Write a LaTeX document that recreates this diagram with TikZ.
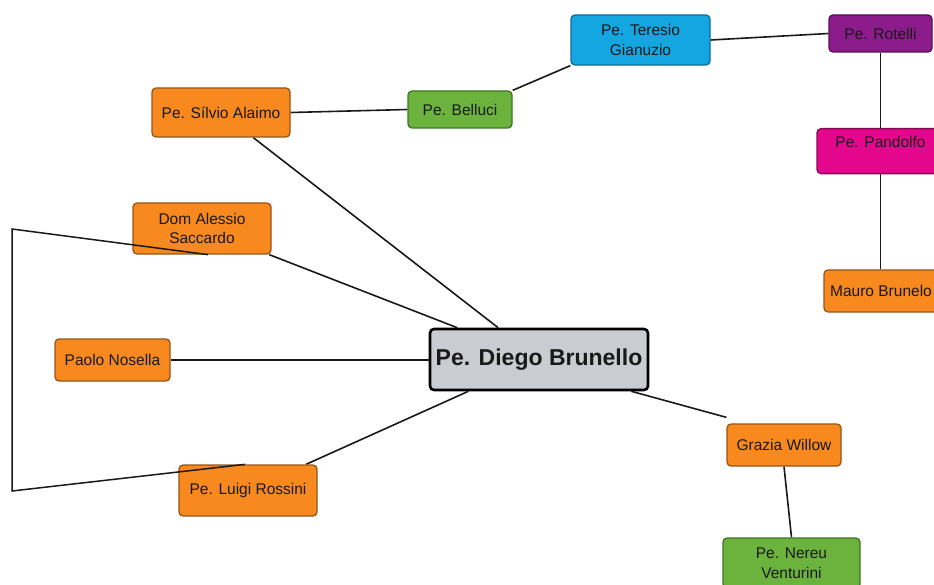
\documentclass[tikz,border=0pt]{standalone}
\usepackage{fontspec}
\setmainfont{Liberation Sans}
\usetikzlibrary{backgrounds}
\begin{document}
\begin{tikzpicture}[x=1pt,y=-1pt,
  every node/.style={font=\fontsize{15.5}{19.5}\selectfont, text=black!90},
  box/.style={draw, rounded corners=4pt, line width=1.3pt, align=center, inner sep=0pt},
  orangebox/.style={box, fill={rgb,255:red,247;green,137;blue,31}, draw={rgb,255:red,150;green,85;blue,25}},
  greenbox/.style={box, fill={rgb,255:red,108;green,179;blue,62}, draw={rgb,255:red,62;green,118;blue,34}},
  bluebox/.style={box, fill={rgb,255:red,20;green,166;blue,224}, draw={rgb,255:red,20;green,105;blue,150}},
  purplebox/.style={box, fill={rgb,255:red,140;green,28;blue,140}, draw={rgb,255:red,85;green,15;blue,85}},
  magentabox/.style={box, fill={rgb,255:red,228;green,6;blue,141}, draw={rgb,255:red,135;green,10;blue,85}},
  mainbox/.style={box, fill={rgb,255:red,201;green,204;blue,209}, draw=black, line width=2.6pt,
    font=\fontsize{23}{27}\selectfont\bfseries},
  link/.style={draw=black!90, line width=1.6pt}
]
\useasboundingbox (0,0) rectangle (934,585);
\clip (0,0) rectangle (934,585);

% nodes
\node[mainbox, minimum width=218, minimum height=61] (diego) at (539,359.5) {Pe. Diego Brunello};
\node[orangebox, minimum width=138, minimum height=49] (silvio) at (221,112.5) {Pe. Sílvio Alaimo};
\node[greenbox, minimum width=104, minimum height=37] (belluci) at (460,109.5) {Pe. Belluci};
\node[bluebox, minimum width=139, minimum height=50] (teresio) at (640.5,40) {Pe. Teresio\\Gianuzio};
\node[purplebox, minimum width=103, minimum height=37] (rotelli) at (880.5,33.5) {Pe. Rotelli};
\node[magentabox, minimum width=127, minimum height=45, anchor=north,
      label={[anchor=north, yshift=-5pt, font=\fontsize{15.5}{19}\selectfont, text=black!90]north:Pe. Pandolfo}]
      (pand) at (880.5,128) {};
\node[orangebox, minimum width=114, minimum height=42] (mauro) at (881,291) {Mauro Brunelo};
\node[orangebox, minimum width=138, minimum height=51] (dom) at (202,228.5) {Dom Alessio\\Saccardo};
\node[orangebox, minimum width=115, minimum height=42] (paolo) at (112.5,360) {Paolo Nosella};
\node[orangebox, minimum width=138, minimum height=51] (rossini) at (248,490.5) {Pe. Luigi Rossini};
\node[orangebox, minimum width=114, minimum height=42] (grazia) at (784,445) {Grazia Willow};
\node[greenbox, minimum width=137, minimum height=50] (nereu) at (791.5,563) {Pe. Nereu\\Venturini};

% connectors, behind the boxes
\begin{scope}[on background layer]
\draw[link] (silvio.east) -- (belluci.west);
\draw[link] (belluci.north east) -- (teresio.south west);
\draw[link] (teresio.east) -- (rotelli.west);
\draw[link] (rotelli.south) -- (pand.north);
\draw[link] (pand.south) -- (pand.south |- mauro.north);
\draw[link] (silvio) -- (diego);
\draw[link] (dom) -- (diego);
\draw[link] (paolo.east) -- (paolo.east -| diego.west);
\draw[link] (rossini) -- (diego);
\draw[link] ([xshift=-18pt]diego.south east) -- ([yshift=6pt]grazia.north west);
\draw[link] (grazia.south) -- (nereu.north);
\end{scope}

% bracket joining Dom Alessio and Luigi Rossini, drawn over the boxes
\coordinate (bt) at (12,229);
\coordinate (bb) at (12,491);
\draw[link, line width=1.5pt] ([xshift=6pt]dom.south) -- (bt) -- (bb) -- ([xshift=-3pt]rossini.north);
\end{tikzpicture}
\end{document}
